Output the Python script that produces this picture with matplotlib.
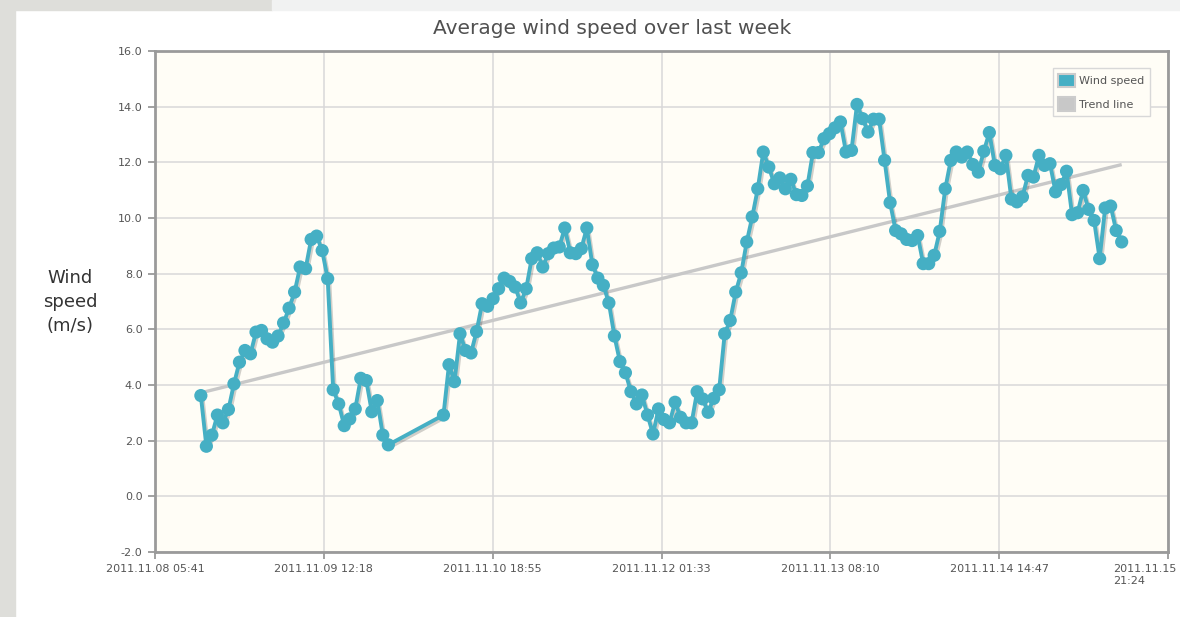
import matplotlib
matplotlib.use("Agg")
import matplotlib.pyplot as plt
import matplotlib.patheffects as pe
from matplotlib.patches import Patch, Rectangle
from matplotlib.transforms import ScaledTranslation
import pandas as pd

# ---------------- data ----------------
title = "Average wind speed over last week"
y_label = "Wind\nspeed\n(m/s)"
series_names = ["Wind speed", "Trend line"]

seg1_start = "2011-11-08 14:00"
seg1_values = [3.62, 1.80, 2.20, 2.92, 2.64, 3.12, 4.04, 4.82, 5.24, 5.12,
               5.90, 5.96, 5.66, 5.54, 5.76, 6.23, 6.76, 7.34, 8.24, 8.18,
               9.23, 9.35, 8.83, 7.82, 3.83, 3.32, 2.54, 2.78, 3.14, 4.24,
               4.16, 3.04, 3.44, 2.20, 1.85]

seg2_start = "2011-11-10 10:00"
seg2_values = [2.92, 4.73, 4.12, 5.84, 5.24, 5.15, 5.92, 6.92, 6.83, 7.10,
               7.46, 7.84, 7.72, 7.52, 6.95, 7.46, 8.54, 8.75, 8.24, 8.72,
               8.92, 8.96, 9.64, 8.75, 8.72, 8.90, 9.64, 8.32, 7.84, 7.58,
               6.95, 5.76, 4.84, 4.44, 3.76, 3.32, 3.64, 2.92, 2.24, 3.14,
               2.76, 2.64, 3.38, 2.84, 2.64, 2.64, 3.76, 3.50, 3.02, 3.52,
               3.83, 5.84, 6.32, 7.34, 8.03, 9.14, 10.04, 11.05, 12.37, 11.83,
               11.23, 11.44, 11.05, 11.39, 10.84, 10.81, 11.15, 12.35, 12.35, 12.85,
               13.03, 13.24, 13.45, 12.37, 12.43, 14.08, 13.57, 13.09, 13.55, 13.55,
               12.07, 10.55, 9.55, 9.43, 9.23, 9.19, 9.37, 8.36, 8.36, 8.66,
               9.52, 11.05, 12.07, 12.37, 12.19, 12.37, 11.92, 11.65, 12.40, 13.07,
               11.89, 11.77, 12.25, 10.68, 10.58, 10.76, 11.53, 11.47, 12.25, 11.89,
               11.95, 10.94, 11.20, 11.68, 10.12, 10.19, 10.99, 10.31, 9.91, 8.54,
               10.36, 10.43, 9.55, 9.14]

trend_values = [3.72, 11.92]

x_tick_labels = ["2011.11.08 05:41", "2011.11.09 12:18", "2011.11.10 18:55",
                 "2011.11.12 01:33", "2011.11.13 08:10", "2011.11.14 14:47",
                 "2011.11.15 21:24"]
y_ticks = [-2.0, 0.0, 2.0, 4.0, 6.0, 8.0, 10.0, 12.0, 14.0, 16.0]

# ---------------- build series ----------------
t1 = pd.date_range(seg1_start, periods=len(seg1_values), freq="h")
t2 = pd.date_range(seg2_start, periods=len(seg2_values), freq="h")
times = list(t1) + list(t2)
values = seg1_values + seg2_values
trend_times = [times[0], times[-1]]
tick_pos = [pd.to_datetime(s, format="%Y.%m.%d %H:%M") for s in x_tick_labels]

# ---------------- figure ----------------
W, H = 1180, 617
fig = plt.figure(figsize=(W / 100, H / 100), dpi=100, facecolor="white")

# page background strips
fig.add_artist(Rectangle((0, 0), 15 / W, 1, transform=fig.transFigure,
                         color="#dededa", zorder=-5))
fig.add_artist(Rectangle((0, 1 - 10 / H), 272 / W, 10 / H, transform=fig.transFigure,
                         color="#dededa", zorder=-5))
fig.add_artist(Rectangle((272 / W, 1 - 10 / H), 1 - 272 / W, 10 / H,
                         transform=fig.transFigure, color="#f1f2f2", zorder=-5))

left, right, top, bottom = 155, 1168, 51, 552
ax = fig.add_axes([left / W, 1 - bottom / H, (right - left) / W, (bottom - top) / H])
ax.set_facecolor("#fffdf6")

line_color = "#45afc4"
trend_color = "#c8c8c8"

ax.plot(trend_times, trend_values, color=trend_color, lw=2.4, zorder=3,
        solid_capstyle="butt")
ax.plot(times, values, color=line_color, lw=2.8, marker="o", markersize=9.5,
        markeredgewidth=0, zorder=4,
        path_effects=[pe.SimpleLineShadow(offset=(1.2, -1.5), shadow_color="k", alpha=0.18),
                      pe.Normal()])

ax.set_xlim(tick_pos[0], tick_pos[-1])
ax.set_ylim(y_ticks[0], y_ticks[-1])
ax.set_yticks(y_ticks)
ax.set_yticklabels([f"{v:.1f}" for v in y_ticks])
ax.set_xticks(tick_pos)
ax.set_xticklabels([s if i < len(x_tick_labels) - 1 else s.replace(" ", "\n")
                    for i, s in enumerate(x_tick_labels)])

ax.grid(True, color="#d8d8d8", lw=1.1)
ax.set_axisbelow(True)
for sp in ax.spines.values():
    sp.set_color("#9a9a9a")
    sp.set_linewidth(2.0)

ax.tick_params(axis="both", direction="out", length=5, width=1.3, color="#9a9a9a",
               labelsize=8, labelcolor="#555555")
ax.tick_params(axis="x", pad=4)
ax.tick_params(axis="y", pad=4)

last = ax.get_xticklabels()[-1]
last.set_horizontalalignment("left")
last.set_multialignment("left")
last.set_transform(last.get_transform() + ScaledTranslation(-55 / 100, 0, fig.dpi_scale_trans))

# title and y label
fig.text(612 / W, 1 - 28 / H, title, ha="center", va="center", fontsize=14.5,
         color="#505050")
fig.text(70 / W, 1 - 302 / H, y_label, ha="center", va="center", fontsize=13,
         color="#333333", linespacing=1.45, multialignment="center")

handles = [Patch(facecolor=line_color, edgecolor="#cccccc", linewidth=1.5),
           Patch(facecolor=trend_color, edgecolor="#cccccc", linewidth=1.5)]
leg = ax.legend(handles, series_names, loc="upper right",
                bbox_to_anchor=(1150 / W, 1 - 68 / H), bbox_transform=fig.transFigure,
                borderaxespad=0, fontsize=8, handlelength=1.5, handleheight=1.5,
                handletextpad=0.4, labelspacing=0.9, borderpad=0.5,
                fancybox=False, framealpha=1, facecolor="#fffdf6",
                edgecolor="#d8d8d8")
for t in leg.get_texts():
    t.set_color("#555555")
leg.get_frame().set_linewidth(1.0)

fig.savefig("out.png", dpi=100, facecolor=fig.get_facecolor())
